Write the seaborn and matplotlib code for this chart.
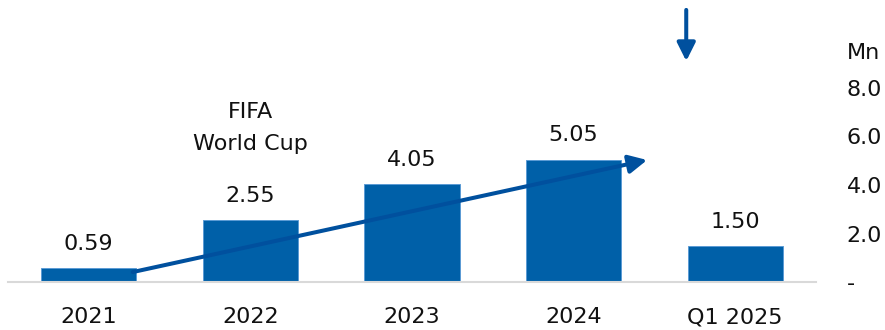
import matplotlib
matplotlib.use("Agg")
import matplotlib.pyplot as plt
import seaborn as sns
import pandas as pd

# Visitors (millions) per period
periods = ["2021", "2022", "2023", "2024", "Q1 2025"]
visitors = [0.59, 2.55, 4.05, 5.05, 1.50]
value_labels = ["0.59", "2.55", "4.05", "5.05", "1.50"]
y_ticks = [0, 2, 4, 6, 8]
y_tick_labels = ["-", "2.0", "4.0", "6.0", "8.0"]
unit_label = "Mn"
event_lines = ["FIFA", "World Cup"]

BAR_BLUE = "#0060A8"
ARROW_BLUE = "#00509E"
FS = 16

sns.set_style("white")
plt.rcParams["font.family"] = ["DejaVu Sans"]

df = pd.DataFrame({"period": periods, "visitors": visitors})

fig = plt.figure(figsize=(8.85, 3.30), dpi=100)
ax = fig.add_axes([8 / 885, 1 - 282 / 330, 808 / 885, 282 / 330])

sns.barplot(data=df, x="period", y="visitors", color=BAR_BLUE, width=0.59,
            saturation=1, edgecolor="#5b9bd5", linewidth=0.7, ax=ax)

ax.set_xlim(-0.5, 4.5)
ax.set_ylim(0, 282 / 24.25)
ax.set_xlabel("")
ax.set_ylabel("")

# value labels above each bar
for i, (v, lab) in enumerate(zip(visitors, value_labels)):
    ax.annotate(lab, xy=(i, v), xytext=(0, 13), textcoords="offset points",
                ha="center", va="baseline", fontsize=FS, color="#111111")

# event note over 2022
ax.text(1, 6.76, event_lines[0], ha="center", va="baseline", fontsize=FS, color="#111111")
ax.text(1, 5.44, event_lines[1], ha="center", va="baseline", fontsize=FS, color="#111111")

# growth trend arrow, drawn over the bars
trend_start = (0.272, 0.41)
trend_end = (3.455, 5.03)
ax.annotate("", xy=trend_end, xytext=trend_start, zorder=6,
            arrowprops=dict(arrowstyle="-|>,head_length=1.1,head_width=0.55",
                            color=ARROW_BLUE, lw=2.9, shrinkA=0, shrinkB=0))

# downward marker arrow
down_top = (3.697, 11.22)
down_tip = (3.697, 9.11)
ax.annotate("", xy=down_tip, xytext=down_top, annotation_clip=False, zorder=6,
            arrowprops=dict(arrowstyle="-|>,head_length=1.1,head_width=0.55",
                            color=ARROW_BLUE, lw=2.9, shrinkA=0, shrinkB=0))

# right-hand value axis
ax.yaxis.tick_right()
ax.set_yticks(y_ticks)
ax.set_yticklabels(y_tick_labels)
ax.tick_params(axis="y", length=0, pad=22, labelsize=FS, labelcolor="#111111")
ax.tick_params(axis="x", length=0, pad=18, labelsize=FS, labelcolor="#111111")
for t in ax.get_yticklabels():
    t.set_horizontalalignment("left")

ax.annotate(unit_label, xy=(1, 9.44), xycoords=("axes fraction", "data"),
            xytext=(22, 0), textcoords="offset points",
            ha="left", va="center", fontsize=FS, color="#111111")

for s in ["top", "left", "right"]:
    ax.spines[s].set_visible(False)
ax.spines["bottom"].set_color("#d9d9d9")
ax.spines["bottom"].set_linewidth(1.5)
ax.grid(False)

fig.savefig("out.png", dpi=100)
